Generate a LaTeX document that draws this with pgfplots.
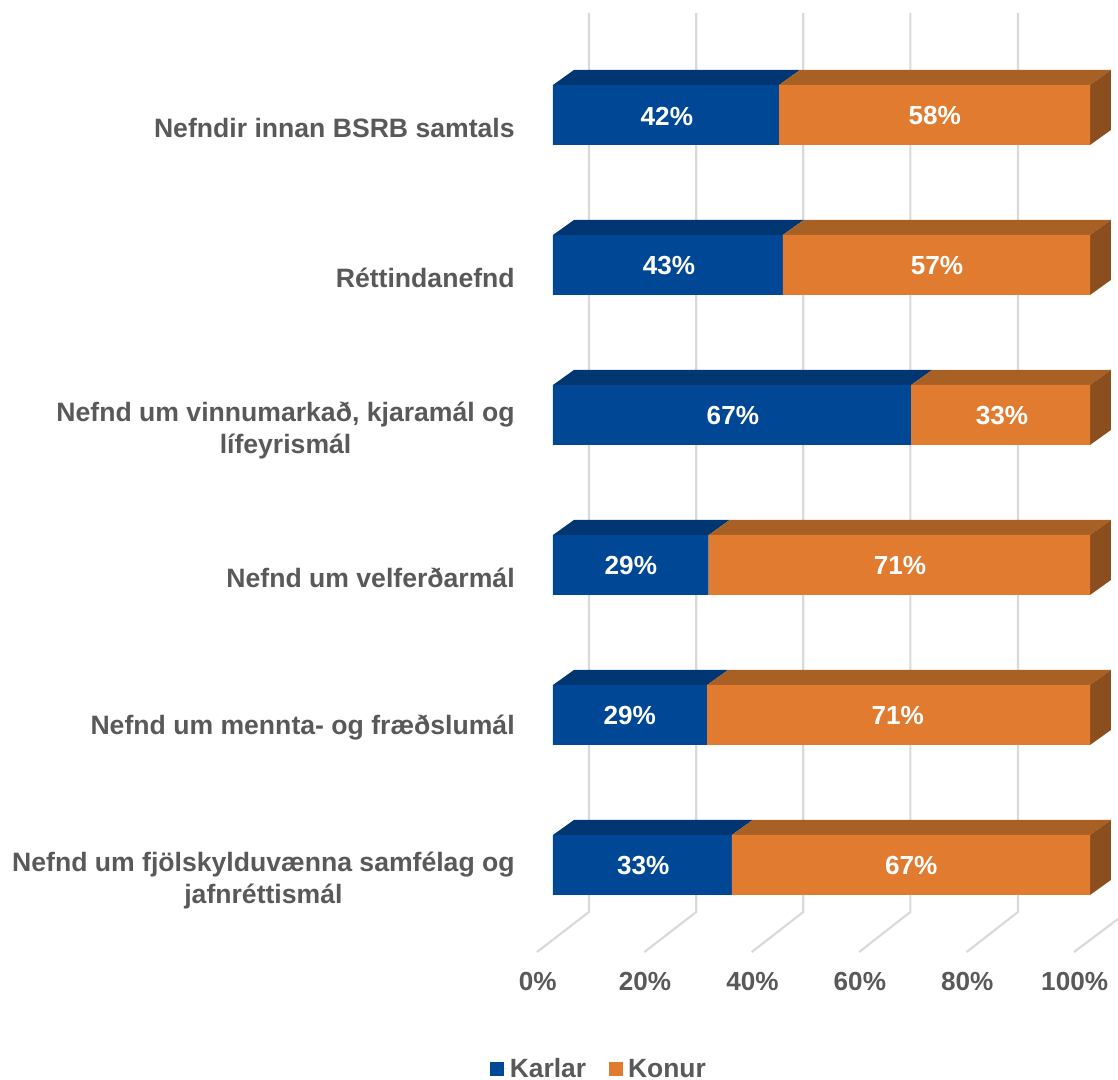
\documentclass[border=0pt]{standalone}
\usepackage{fontspec}
\setmainfont{Liberation Sans}
\usepackage{pgfplots}
\usepackage{pgfplotstable}
\pgfplotsset{compat=1.18}

\definecolor{blueF}{HTML}{004795}
\definecolor{blueT}{HTML}{003671}
\definecolor{orangeF}{HTML}{E07B2F}
\definecolor{orangeT}{HTML}{A86024}
\definecolor{orangeS}{HTML}{8B4F1F}
\definecolor{gridc}{HTML}{D9D9D9}
\definecolor{txt}{HTML}{595959}

% xbar sets its own legend image, so this has to come after it
\pgfplotsset{sq/.style={legend image code/.code={\fill[##1] (0pt,-5.25pt) rectangle (10.5pt,5.25pt); \path (0pt,0pt) -- (12.5pt,0pt);}}}

% measured bar lengths, y=0 is the bottom category
\pgfplotstableread{
y karlar konur
0 33.3 66.7
1 28.7 71.3
2 29.0 71.0
3 66.7 33.3
4 42.8 57.2
5 42.1 57.9
}\bars

% label centres
\pgfplotstableread{
x y l
16.8 0 33
14.3 1 29
14.5 2 29
33.5 3 67
21.6 4 43
21.2 5 42
66.7 0 67
64.2 1 71
64.6 2 71
83.6 3 33
71.5 4 57
71.1 5 58
}\labels

\begin{document}
\begin{tikzpicture}
\path[use as bounding box] (0,0) rectangle (838.5pt,810pt);
\begin{axis}[
	at={(414.75pt,96pt)},
	anchor=south west,
	scale only axis,
	width=423.75pt,
	height=704.25pt,
	xmin=0, xmax=105.214,
	ymin=-0.58, ymax=5.68,
	clip=false,
	axis line style={draw=none},
	major tick length=0pt,
	bar width=0.4,
	font=\fontsize{19.6}{23}\selectfont\bfseries,
	xtick={0,20,40,60,80,100},
	xticklabels={0\%,20\%,40\%,60\%,80\%,100\%},
	xticklabel style={text=txt, xshift=-11.5pt, yshift=-11.5pt},
	ytick={0,1,2,3,4,5},
	yticklabels={
		{\rule{0pt}{18pt}Nefnd um fjölskylduvænna samfélag og\\jafnréttismál},
		{Nefnd um mennta- og fræðslumál},
		{Nefnd um velferðarmál},
		{\rule{0pt}{18pt}Nefnd um vinnumarkað, kjaramál og\\lífeyrismál},
		{Réttindanefnd},
		{Nefndir innan BSRB samtals}},
	yticklabel style={text=txt, align=center, anchor=east, xshift=-25.2pt, yshift=-9.75pt,
		font=\fontsize{19.95}{24}\selectfont\bfseries},
	legend columns=2,
	legend cell align=left,
	legend style={at={(axis cs:8.65,-1.36)}, anchor=center, draw=none, fill=none, inner sep=0pt, text=txt,
		font=\fontsize{19.8}{23}\selectfont\bfseries,
		nodes={inner ysep=0pt},
		/tikz/every even column/.append style={column sep=15pt}},
]
% back wall and floor lines
\addplot[forget plot, gridc, line width=1.6pt] coordinates {(-2.98,-0.58) (6.70,-0.3133) (6.70,5.68)};
\addplot[forget plot, gridc, line width=1.6pt] coordinates {(17.02,-0.58) (26.67,-0.3133) (26.67,5.68)};
\addplot[forget plot, gridc, line width=1.6pt] coordinates {(37.02,-0.58) (46.59,-0.3133) (46.59,5.68)};
\addplot[forget plot, gridc, line width=1.6pt] coordinates {(57.02,-0.58) (66.54,-0.3133) (66.54,5.68)};
\addplot[forget plot, gridc, line width=1.6pt] coordinates {(77.02,-0.58) (86.59,-0.3133) (86.59,5.68)};
\addplot[forget plot, gridc, line width=1.6pt] coordinates {(97.02,-0.58) (105.21,-0.36)};

% top faces
\addplot[forget plot, fill=blueT, draw=none] coordinates {(0,0.2) (3.9,0.3) (37.2,0.3) (33.3,0.2)} -- cycle;
\addplot[forget plot, fill=orangeT, draw=none] coordinates {(33.3,0.2) (37.2,0.3) (103.9,0.3) (100,0.2)} -- cycle;
\addplot[forget plot, fill=blueT, draw=none] coordinates {(0,1.2) (3.9,1.3) (32.6,1.3) (28.7,1.2)} -- cycle;
\addplot[forget plot, fill=orangeT, draw=none] coordinates {(28.7,1.2) (32.6,1.3) (103.9,1.3) (100,1.2)} -- cycle;
\addplot[forget plot, fill=blueT, draw=none] coordinates {(0,2.2) (3.9,2.3) (32.9,2.3) (29.0,2.2)} -- cycle;
\addplot[forget plot, fill=orangeT, draw=none] coordinates {(29.0,2.2) (32.9,2.3) (103.9,2.3) (100,2.2)} -- cycle;
\addplot[forget plot, fill=blueT, draw=none] coordinates {(0,3.2) (3.9,3.3) (70.6,3.3) (66.7,3.2)} -- cycle;
\addplot[forget plot, fill=orangeT, draw=none] coordinates {(66.7,3.2) (70.6,3.3) (103.9,3.3) (100,3.2)} -- cycle;
\addplot[forget plot, fill=blueT, draw=none] coordinates {(0,4.2) (3.9,4.3) (46.7,4.3) (42.8,4.2)} -- cycle;
\addplot[forget plot, fill=orangeT, draw=none] coordinates {(42.8,4.2) (46.7,4.3) (103.9,4.3) (100,4.2)} -- cycle;
\addplot[forget plot, fill=blueT, draw=none] coordinates {(0,5.2) (3.9,5.3) (46.0,5.3) (42.1,5.2)} -- cycle;
\addplot[forget plot, fill=orangeT, draw=none] coordinates {(42.1,5.2) (46.0,5.3) (103.9,5.3) (100,5.2)} -- cycle;

% side faces
\addplot[forget plot, fill=orangeS, draw=none] coordinates {(100,0.2) (103.9,0.3) (103.9,-0.1) (100,-0.2)} -- cycle;
\addplot[forget plot, fill=orangeS, draw=none] coordinates {(100,1.2) (103.9,1.3) (103.9,0.9) (100,0.8)} -- cycle;
\addplot[forget plot, fill=orangeS, draw=none] coordinates {(100,2.2) (103.9,2.3) (103.9,1.9) (100,1.8)} -- cycle;
\addplot[forget plot, fill=orangeS, draw=none] coordinates {(100,3.2) (103.9,3.3) (103.9,2.9) (100,2.8)} -- cycle;
\addplot[forget plot, fill=orangeS, draw=none] coordinates {(100,4.2) (103.9,4.3) (103.9,3.9) (100,3.8)} -- cycle;
\addplot[forget plot, fill=orangeS, draw=none] coordinates {(100,5.2) (103.9,5.3) (103.9,4.9) (100,4.8)} -- cycle;

% front faces
\addplot[xbar stacked, sq, fill=blueF, draw=none] table[x=karlar, y=y] {\bars};
\addplot[xbar stacked, sq, fill=orangeF, draw=none] table[x=konur, y=y] {\bars};
\legend{Karlar,Konur}

% value labels
\addplot[forget plot, draw=none, mark=none, point meta=explicit symbolic,
	nodes near coords={\pgfplotspointmeta\%},
	nodes near coords style={anchor=center, text=white, inner sep=0pt, yshift=-0.75pt}]
	table[x=x, y=y, meta=l] {\labels};
\end{axis}
\end{tikzpicture}
\end{document}
